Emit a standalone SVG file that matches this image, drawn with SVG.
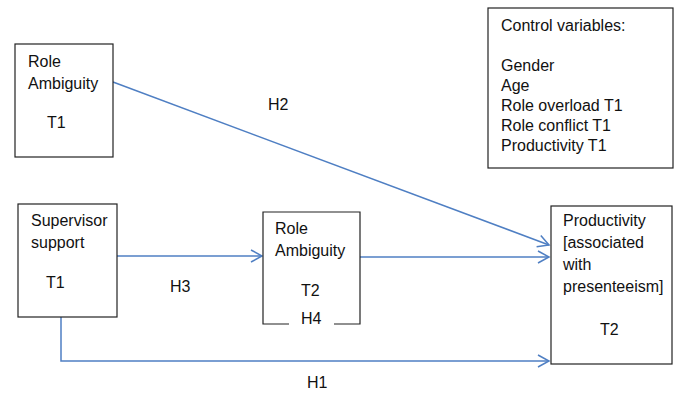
<svg xmlns="http://www.w3.org/2000/svg" width="675" height="393" viewBox="0 0 675 393">
<defs>
<style>
.box{fill:#fff;stroke:#222;stroke-width:1.2}
.t{font-family:"Liberation Sans",Arial,sans-serif;font-size:16px;fill:#111}
.c{fill:none;stroke:#4f7fc3;stroke-width:1.5}
</style>
<marker id="ah" markerUnits="userSpaceOnUse" markerWidth="14" markerHeight="14" viewBox="0 0 14 14" refX="12" refY="7" orient="auto">
<path d="M1,1 L12,7 L1,13" fill="none" stroke="#4f7fc3" stroke-width="1.5"/>
</marker>
</defs>
<rect width="675" height="393" fill="#fff"/>
<g id="connectors">
<line class="c" x1="113" y1="82" x2="549" y2="245" marker-end="url(#ah)"/>
<line class="c" x1="117" y1="256" x2="262" y2="256" marker-end="url(#ah)"/>
<line class="c" x1="360" y1="257" x2="549" y2="257" marker-end="url(#ah)"/>
<polyline class="c" points="61,317 61,361 549,361" marker-end="url(#ah)"/>
<text class="t" x="268" y="110">H2</text>
<text class="t" x="170" y="292">H3</text>
<text class="t" x="307" y="388">H1</text>
</g>
<g id="role-ambiguity-t1">
<rect class="box" x="15" y="44" width="98" height="113"/>
<text class="t" x="28" y="67">Role</text>
<text class="t" x="28" y="89">Ambiguity</text>
<text class="t" x="47" y="128">T1</text>
</g>
<g id="supervisor-support">
<rect class="box" x="18" y="204" width="99" height="113"/>
<text class="t" x="31" y="226">Supervisor</text>
<text class="t" x="31" y="248">support</text>
<text class="t" x="46" y="288">T1</text>
</g>
<g id="role-ambiguity-t2">
<path class="box" d="M289,324 L263,324 L263,212 L360,212 L360,324 L334,324" fill="none"/>
<text class="t" x="275" y="234">Role</text>
<text class="t" x="275" y="256">Ambiguity</text>
<text class="t" x="301" y="296">T2</text>
<text class="t" x="301" y="324">H4</text>
</g>
<g id="productivity">
<rect class="box" x="551" y="206" width="121" height="158"/>
<text class="t" x="563" y="226">Productivity</text>
<text class="t" x="563" y="248">[associated</text>
<text class="t" x="563" y="270">with</text>
<text class="t" x="563" y="292">presenteeism]</text>
<text class="t" x="600" y="335">T2</text>
</g>
<g id="control-variables">
<rect class="box" x="488" y="8" width="185" height="160"/>
<text class="t" x="501" y="31">Control variables:</text>
<text class="t" x="501" y="71">Gender</text>
<text class="t" x="501" y="91">Age</text>
<text class="t" x="501" y="111">Role overload T1</text>
<text class="t" x="501" y="131">Role conflict T1</text>
<text class="t" x="501" y="151">Productivity T1</text>
</g>
</svg>
